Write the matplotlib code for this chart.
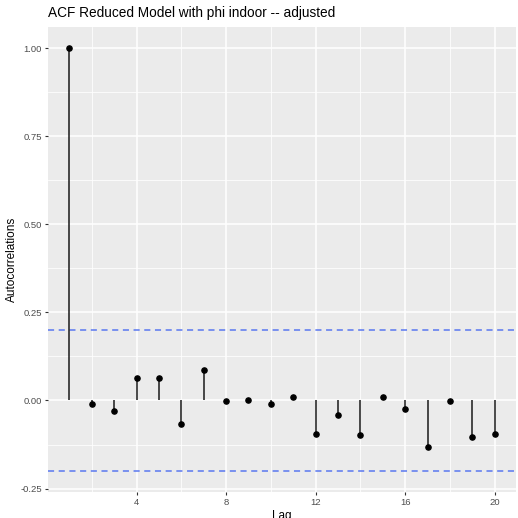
import matplotlib
matplotlib.use("Agg")
from matplotlib import pyplot as plt
import numpy as np

lags = list(range(1, 21))
acf_vals = [1.000, -0.010, -0.031, 0.065, 0.063, -0.066, 0.087, -0.001, 0.000, -0.009,
            0.009, -0.096, -0.042, -0.098, 0.011, -0.025, -0.132, -0.002, -0.104, -0.095]
conf_bound = 0.2
title = "ACF Reduced Model with phi indoor -- adjusted"

plt.rcParams['font.family'] = ['Liberation Sans', 'DejaVu Sans']

fig = plt.figure(figsize=(5.18, 5.18), dpi=100)
ax = fig.add_axes([0.093, 0.050, 0.903, 0.898])
ax.set_facecolor('#EBEBEB')
for s in ax.spines.values():
    s.set_visible(False)

# grid, ggplot style
ax.set_xticks([4, 8, 12, 16, 20])
ax.set_xticks([2, 6, 10, 14, 18], minor=True)
ax.set_yticks([-0.25, 0, 0.25, 0.5, 0.75, 1.0])
ax.set_yticks([-0.125, 0.125, 0.375, 0.625, 0.875], minor=True)
ax.grid(which='major', color='white', linewidth=1.1)
ax.grid(which='minor', color='white', linewidth=0.55)
ax.set_axisbelow(True)

ax.vlines(lags, 0, acf_vals, color='#1a1a1a', linewidth=1.1, zorder=3)
ax.scatter(lags, acf_vals, s=14, color='black', zorder=4)
ax.axhline(conf_bound, color='#5a78f0', linestyle=(0, (4, 3)), linewidth=1.1, zorder=2)
ax.axhline(-conf_bound, color='#5a78f0', linestyle=(0, (4, 3)), linewidth=1.1, zorder=2)

ax.set_xlim(0.05, 20.95)
ax.set_ylim(-0.26, 1.06)
ax.set_yticklabels(['-0.25', '0.00', '0.25', '0.50', '0.75', '1.00'])
ax.tick_params(which='major', length=2.5, color='#333333', labelcolor='#4D4D4D',
               labelsize=6.8, pad=2)
ax.tick_params(which='minor', length=0)

ax.set_xlabel('Lag', fontsize=8.5, labelpad=2)
ax.set_ylabel('Autocorrelations', fontsize=8.5, labelpad=2)
ax.set_title(title, loc='left', fontsize=9.8, x=0.0, pad=7)

fig.savefig('out.png', dpi=100)
